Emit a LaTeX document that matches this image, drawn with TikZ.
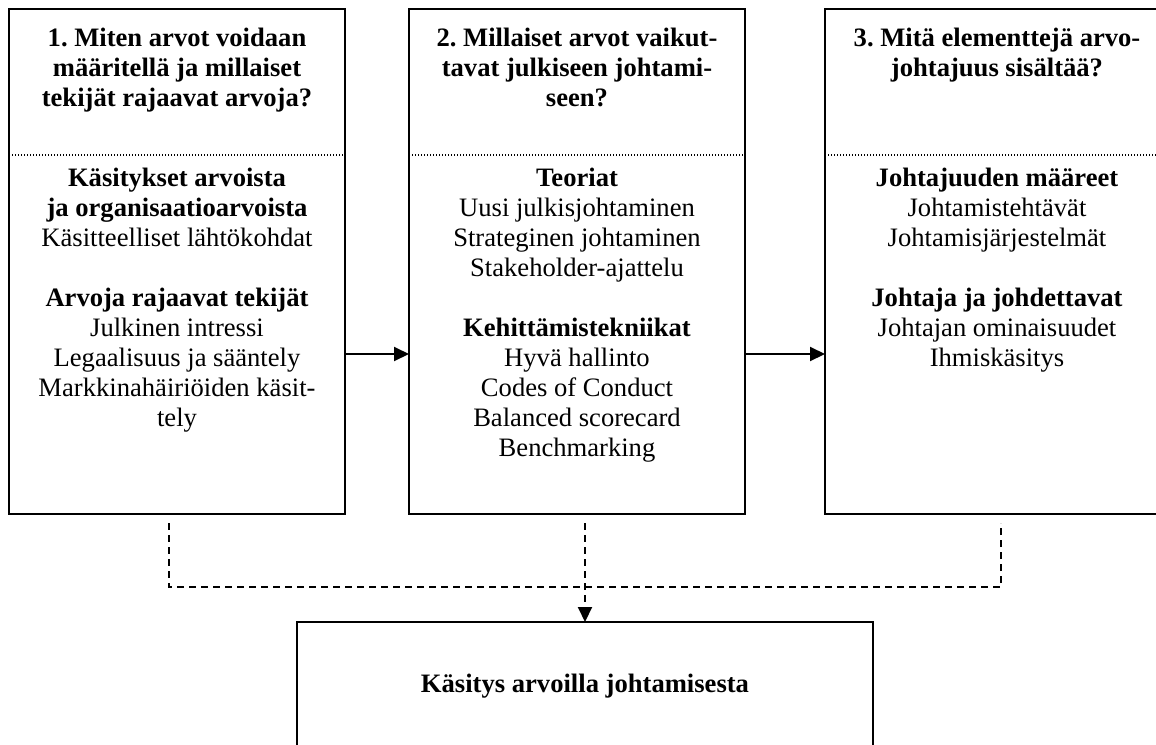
\documentclass[tikz,border=0pt]{standalone}
\usepackage{fontspec}
\setmainfont{Liberation Serif}
\usetikzlibrary{arrows.meta}
\frenchspacing
\tikzset{
  box/.style={draw=black, line width=2pt, fill=none, inner sep=0pt, outer sep=0pt},
  sep/.style={line width=1.2pt, dash pattern=on 1.2pt off 1.8pt},
  arr/.style={line width=2pt, -{Triangle[length=15pt,width=14pt]}},
  dsh/.style={line width=2pt, dash pattern=on 7pt off 5pt},
  txt/.style={anchor=base, inner sep=0pt, font=\fontsize{26.6}{30}\selectfont}
}
\newcommand{\lines}[1]{\setlength{\tabcolsep}{0pt}\begin{tabular}[t]{c}#1\end{tabular}}
\begin{document}
\begin{tikzpicture}[x=1pt,y=-1pt]
\clip (0,0) rectangle (1156,744);
\useasboundingbox (0,0) rectangle (1156,744);
% boxes
\node[box, minimum width=336pt, minimum height=505pt] (b1) at (177,261.5) {};
\node[box, minimum width=336pt, minimum height=505pt] (b2) at (577,261.5) {};
\node[box, minimum width=336pt, minimum height=505pt] (b3) at (993,261.5) {};
\node[box, minimum width=576pt, minimum height=160pt] (b4) at (585,702) {};
% dotted separators
\coordinate (s) at (0,155);
\draw[sep] (b1.west |- s) -- (b1.east |- s);
\draw[sep] (b2.west |- s) -- (b2.east |- s);
\draw[sep] (b3.west |- s) -- (b3.east |- s);
% titles
\node[txt] (t1) at (177,46) {\lines{\textbf{1. Miten arvot voidaan}\\ \textbf{määritellä ja millaiset}\\ \textbf{tekijät rajaavat arvoja?}}};
\node[txt] (t2) at (577,46) {\lines{\textbf{2. Millaiset arvot vaikut-}\\ \textbf{tavat julkiseen johtami-}\\ \textbf{seen?}}};
\node[txt] (t3) at (997,46) {\lines{\textbf{3. Mitä elementtejä arvo-}\\ \textbf{johtajuus sisältää?}}};
% bodies
\node[txt] (c1) at (177,186) {\lines{\textbf{Käsitykset arvoista}\\ \textbf{ja organisaatioarvoista}\\ Käsitteelliset lähtökohdat\\ \\ \textbf{Arvoja rajaavat tekijät}\\ Julkinen intressi\\ Legaalisuus ja sääntely\\ Markkinahäiriöiden käsit-\\ tely}};
\node[txt] (c2) at (577,186) {\lines{\textbf{Teoriat}\\ Uusi julkisjohtaminen\\ Strateginen johtaminen\\ Stakeholder-ajattelu\\ \\ \textbf{Kehittämistekniikat}\\ Hyvä hallinto\\ Codes of Conduct\\ Balanced scorecard\\ Benchmarking}};
\node[txt] (c3) at (997,186) {\lines{\textbf{Johtajuuden määreet}\\ Johtamistehtävät\\ Johtamisjärjestelmät\\ \\ \textbf{Johtaja ja johdettavat}\\ Johtajan ominaisuudet\\ Ihmiskäsitys}};
\node[txt] (c4) at (585,692) {\textbf{Käsitys arvoilla johtamisesta}};
% solid arrows
\coordinate (r) at (0,354);
\draw[arr] (b1.east |- r) -- (b2.west |- r);
\draw[arr] (b2.east |- r) -- (b3.west |- r);
% dashed connectors
\coordinate (d1) at (169,523);
\coordinate (d2) at (585,523);
\coordinate (d3) at (1001,523);
\coordinate (h) at (0,587);
\draw[dsh] (d1) -- (d1 |- h) -- (d3 |- h) -- (d3);
\draw[dsh, arr] (d2) -- (d2 |- b4.north);
\end{tikzpicture}
\end{document}
